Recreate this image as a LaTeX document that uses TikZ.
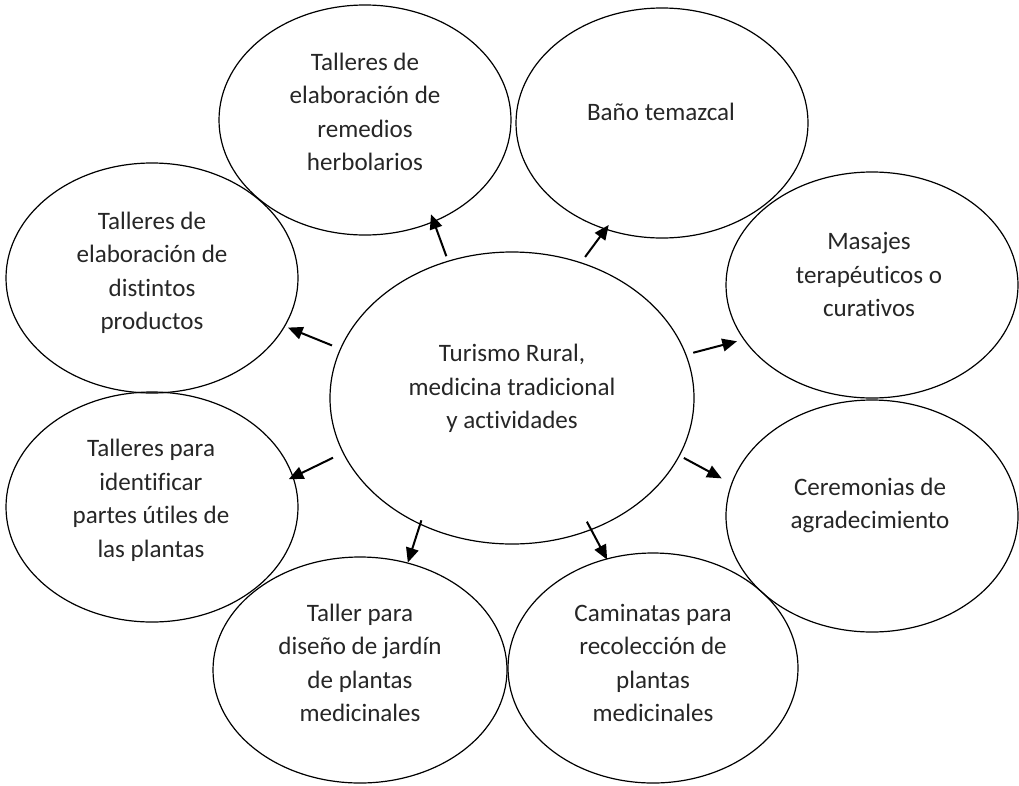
\documentclass[tikz,border=0pt]{standalone}
\usepackage{fontspec}
\setmainfont{Carlito}[Ligatures={NoCommon}]
\usetikzlibrary{shapes.geometric,arrows.meta}
\begin{document}
\begin{tikzpicture}[x=0.75pt,y=-0.75pt,
  bub/.style={draw, ellipse, inner sep=0pt, line width=0.9pt, minimum width=219pt, minimum height=172.5pt},
  txt/.style={align=center, font=\fontsize{18.8}{25.1}\selectfont, inner sep=0pt, text=black!85},
  arr/.style={line width=1.5pt, -{Triangle[length=11pt,width=9.5pt]}}]
\useasboundingbox (0,0) rectangle (1019,785);
% ellipses
\node[bub, minimum width=273pt, minimum height=219pt] (c) at (512,398) {};
\node[bub] (b1) at (365,120) {};
\node[bub] (b2) at (662,123) {};
\node[bub, minimum height=169.5pt] (b3) at (872,285) {};
\node[bub, minimum height=174pt] (b4) at (872,516) {};
\node[bub, minimum width=217.5pt] (b5) at (653,668) {};
\node[bub, minimum width=220.5pt, minimum height=169.5pt] (b6) at (360,670) {};
\node[bub] (b7) at (152,507) {};
\node[bub] (b8) at (152,278) {};
% texts
\node[txt] (tc) at (512,388.5) {Turismo Rural,\\medicina tradicional\\y actividades};
\node[txt] (t1) at (365,112) {Talleres de\\elaboración de\\remedios\\herbolarios};
\node[txt] (t2) at (661,112) {Baño temazcal};
\node[txt] (t3) at (869,274.5) {Masajes\\terapéuticos o\\curativos};
\node[txt] (t4) at (870,505.5) {Ceremonias de\\agradecimiento};
\node[txt] (t5) at (653,663) {Caminatas para\\recolección de\\plantas\\medicinales};
\node[txt] (t6) at (360,663) {Taller para\\diseño de jardín\\de plantas\\medicinales};
\node[txt] (t7) at (151,500.5) {Talleres para\\identificar\\partes útiles de\\las plantas};
\node[txt] (t8) at (152,273) {Talleres de\\elaboración de\\distintos\\productos};
% arrows
\draw[arr, shorten <=3.6pt, shorten >=-6.2pt] (c.115) -- (b1.304);
\draw[arr, shorten <=5pt, shorten >=-4.3pt] (c.63) -- (b2.242);
\draw[arr, shorten <=5.3pt, shorten >=5pt] (c.14) -- (b3.203);
\draw[arr, shorten <=3.4pt, shorten >=8.1pt] (c.341) -- (b4.167);
\draw[arr, shorten <=-7.1pt, shorten >=-1pt] (c.301) -- (b5.113);
\draw[arr, shorten <=-3.4pt] (c.234) -- (b6.66);
\draw[arr, shorten <=8.1pt, shorten >=-4pt] (c.198) -- (b7.12);
\draw[arr, shorten <=6.5pt, shorten >=2.3pt] (c.164) -- (b8.340);
\end{tikzpicture}
\end{document}
